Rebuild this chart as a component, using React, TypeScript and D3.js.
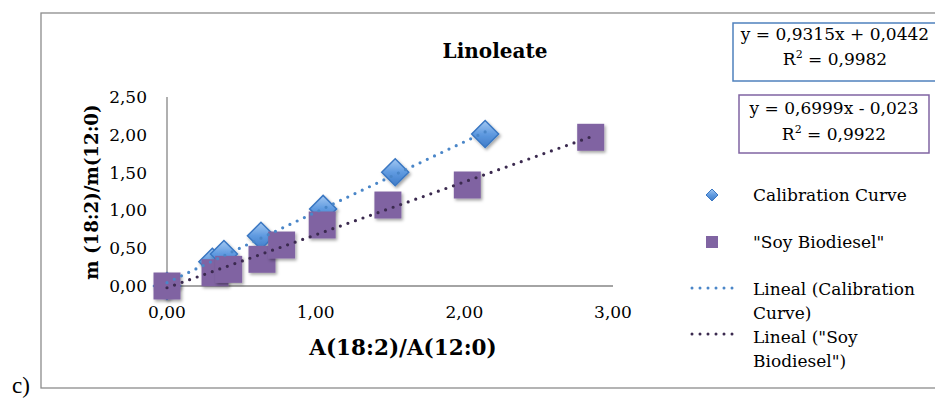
import React from "react";
import * as d3 from "d3";

const calX = [0, 0.305, 0.383, 0.632, 1.05, 1.535, 2.14];
const calY = [0, 0.32, 0.423, 0.665, 1.02, 1.504, 2.01];
const soyX = [0, 0.323, 0.415, 0.639, 0.771, 1.044, 1.486, 2.02, 2.85];
const soyY = [0, 0.176, 0.22, 0.353, 0.542, 0.807, 1.071, 1.336, 1.967];
const xTicks = [0, 1, 2, 3];
const yTicks = [0, 0.5, 1, 1.5, 2, 2.5];
const calFit = { slope: 0.9315, intercept: 0.0442, r2: "0,9982", label: "y = 0,9315x + 0,0442" };
const soyFit = { slope: 0.6999, intercept: -0.023, r2: "0,9922", label: "y = 0,6999x - 0,023" };
const legendLabels = ["Calibration Curve", "\"Soy Biodiesel\"", "Lineal (Calibration", "Curve)", "Lineal (\"Soy", "Biodiesel\")"];

const FONT = "'DejaVu Serif', serif";
const fmt = (v: number) => v.toFixed(2).replace(".", ",");

export default function App() {
  const x = d3.scaleLinear().domain([0, 3]).range([167, 613]);
  const y = d3.scaleLinear().domain([0, 2.5]).range([286, 97]);
  const line = d3.line<number>().x((d) => x(d[0])).y((d) => y(d[1]));
  const calLine = line([[0, calFit.intercept], [d3.max(calX)!, calFit.slope * d3.max(calX)! + calFit.intercept]] as any);
  const soyLine = line([[0, soyFit.intercept], [d3.max(soyX)!, soyFit.slope * d3.max(soyX)! + soyFit.intercept]] as any);
  const sq = 27;
  const dm = 13.5;
  const diamond = (cx: number, cy: number, r: number) => `M${cx},${cy - r}L${cx + r},${cy}L${cx},${cy + r}L${cx - r},${cy}Z`;
  return (
    <svg width={935} height={398} style={{ position: "absolute", left: 0, top: 0, background: "#fff" }}>
      <defs>
        <linearGradient id="dg" x1="0" y1="0" x2="0" y2="1">
          <stop offset="0" stopColor="#a3c8f2" />
          <stop offset="0.5" stopColor="#5f9ae0" />
          <stop offset="1" stopColor="#3f7bc8" />
        </linearGradient>
        <filter id="sh" x="-30%" y="-30%" width="170%" height="170%">
          <feDropShadow dx="1.5" dy="2" stdDeviation="1.5" floodColor="#000" floodOpacity="0.35" />
        </filter>
      </defs>
      <rect x={41} y={13} width={1000} height={375} fill="#fff" stroke="#8c8c8c" strokeWidth={1.3} />
      <text x={12} y={393} fontFamily="'Liberation Serif', serif" fontSize={23}>c)</text>
      <text x={495} y={58} textAnchor="middle" fontFamily={FONT} fontWeight="bold" fontSize={20}>Linoleate</text>
      {/* axes */}
      <line x1={x(0)} x2={x(0)} y1={y(2.5)} y2={y(0)} stroke="#868686" strokeWidth={1.3} />
      <line x1={x(0)} x2={x(3)} y1={y(0)} y2={y(0)} stroke="#868686" strokeWidth={1.3} />
      {yTicks.map((t) => (
        <text key={t} x={147} y={y(t)} dy="0.35em" textAnchor="end" fontFamily={FONT} fontSize={17}>{fmt(t)}</text>
      ))}
      {xTicks.map((t) => (
        <text key={t} x={x(t)} y={318} textAnchor="middle" fontFamily={FONT} fontSize={17}>{fmt(t)}</text>
      ))}
      <text x={403} y={355} textAnchor="middle" fontFamily={FONT} fontWeight="bold" fontSize={21.5}>A(18:2)/A(12:0)</text>
      <text transform="translate(98,192) rotate(-90)" textAnchor="middle" fontFamily={FONT} fontWeight="bold" fontSize={18.2}>m (18:2)/m(12:0)</text>
      {/* markers */}
      {calX.map((v, i) => (
        <path key={"c" + i} d={diamond(x(v), y(calY[i]), dm)} fill="url(#dg)" stroke="#3a77c2" strokeWidth={1.5} filter="url(#sh)" />
      ))}
      {soyX.map((v, i) => (
        <rect key={"s" + i} x={x(v) - sq / 2} y={y(soyY[i]) - sq / 2} width={sq} height={sq} fill="#8064a2" filter="url(#sh)" />
      ))}
      <path d={calLine!} stroke="#4a86c8" strokeWidth={3.2} strokeDasharray="0 8" strokeLinecap="round" fill="none" />
      <path d={soyLine!} stroke="#3b2a4f" strokeWidth={3.2} strokeDasharray="0 8" strokeLinecap="round" fill="none" />
      {/* equation boxes */}
      <rect x={733} y={23} width={300} height={58} fill="#fff" stroke="#4f81bd" strokeWidth={1.5} />
      <text x={835} y={40} textAnchor="middle" fontFamily={FONT} fontSize={17}>{calFit.label}</text>
      <text x={835} y={65} textAnchor="middle" fontFamily={FONT} fontSize={17}>R<tspan dy={-7} fontSize={11}>2</tspan><tspan dy={7}> = {calFit.r2}</tspan></text>
      <rect x={739} y={95} width={190} height={58} fill="#fff" stroke="#8064a2" strokeWidth={1.5} />
      <text x={834} y={114} textAnchor="middle" fontFamily={FONT} fontSize={17}>{soyFit.label}</text>
      <text x={834} y={140} textAnchor="middle" fontFamily={FONT} fontSize={17}>R<tspan dy={-7} fontSize={11}>2</tspan><tspan dy={7}> = {soyFit.r2}</tspan></text>
      {/* legend */}
      <path d={diamond(712, 195, 6)} fill="url(#dg)" stroke="#3a77c2" strokeWidth={1} />
      <rect x={706} y={236} width={12} height={12} fill="#8064a2" />
      <line x1={692} x2={740} y1={288} y2={288} stroke="#4a86c8" strokeWidth={3} strokeDasharray="0 8" strokeLinecap="round" />
      <line x1={692} x2={740} y1={334} y2={334} stroke="#3b2a4f" strokeWidth={3} strokeDasharray="0 8" strokeLinecap="round" />
      {legendLabels.map((s, i) => (
        <text key={s} x={753} y={[201, 248, 295, 319, 343, 367][i]} fontFamily={FONT} fontSize={17}>{s}</text>
      ))}
    </svg>
  );
}
